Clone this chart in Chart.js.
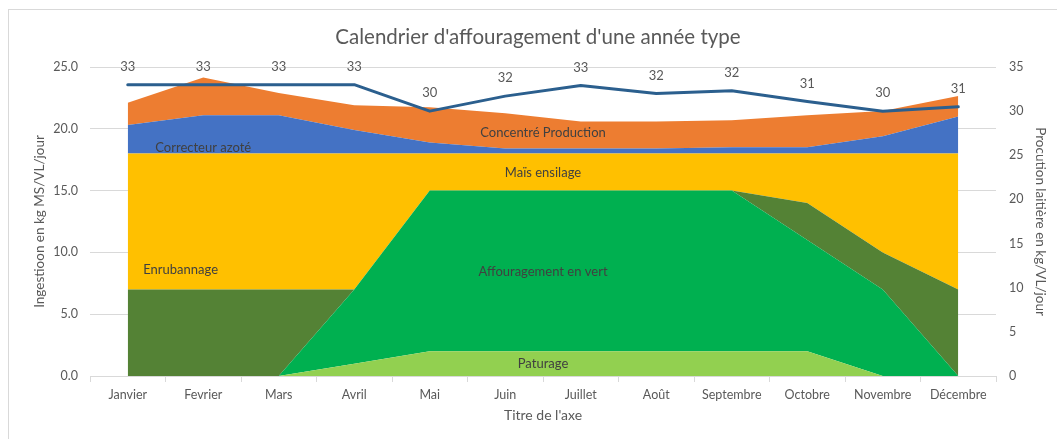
<!DOCTYPE html>
<html>
<head>
<meta charset="utf-8">
<script src="https://cdn.jsdelivr.net/npm/chart.js@4/dist/chart.umd.min.js"></script>
<style>
  html, body { margin: 0; padding: 0; background: #fff; overflow: hidden; width: 1057px; height: 439px; }
  #frame { position: absolute; left: 8px; top: 9px; width: 1058px; height: 440px; border: 1px solid #d9d9d9; background: #fff; }
  #frame canvas { display: block; }
</style>
</head>
<body>
<div id="frame"><canvas id="c" width="1058" height="440"></canvas></div>
<script>
const categories = ['Janvier','Fevrier','Mars','Avril','Mai','Juin','Juillet','Août','Septembre','Octobre','Novembre','Décembre'];
const paturage = [0,0,0,1,2,2,2,2,2,2,0,0];
const affouragementVert = [0,0,0,6,13,13,13,13,13,9,7,0];
const ensilageHerbe = [7,7,7,0,0,0,0,0,0,3,3,7];
const maisEnsilage = [11,11,11,11,3,3,3,3,3,4,8,11];
const correcteurAzote = [2.3,3.1,3.1,1.9,0.9,0.4,0.4,0.4,0.5,0.5,1.4,3.0];
const concentreProduction = [1.8,3.05,1.8,2.0,2.85,2.85,2.2,2.2,2.2,2.6,2.05,1.65];
const productionLaitiere = [33,33,33,33,30,31.7,32.9,32,32.3,31.1,30,30.5];

const leftTicks = [0,5,10,15,20,25];
const rightTicks = [0,5,10,15,20,25,30,35];

const areaLabelTexts = ['Correcteur azoté','Concentré Production','Maïs ensilage','Affouragement en vert','Paturage','Enrubannage'];
const areaLabelAnchorIdx = [1,5.5,5.5,5.5,5.5,0.7];
const areaLabelAnchorVal = [18.5,19.7,16.4,8.45,0.95,8.6];

const FONT = 'Lato, "Open Sans", sans-serif';
const GREY = '#595959';

const areaLabelsPlugin = {
  id: 'areaLabels',
  afterDatasetsDraw(chart) {
    const {ctx, scales} = chart;
    ctx.save();
    ctx.font = '13px ' + FONT;
    ctx.fillStyle = '#404040';
    ctx.textAlign = 'center';
    ctx.textBaseline = 'middle';
    areaLabelTexts.forEach((t, i) => {
      ctx.fillText(t, scales.x.getPixelForValue(areaLabelAnchorIdx[i]), scales.y.getPixelForValue(areaLabelAnchorVal[i]));
    });
    const meta = chart.getDatasetMeta(0);
    ctx.fillStyle = GREY;
    ctx.font = '13px ' + FONT;
    meta.data.forEach((pt, i) => {
      ctx.fillText(String(Math.round(productionLaitiere[i])), pt.x, pt.y - 18);
    });
    ctx.restore();
  }
};

function area(label, data, color, fill) {
  return { type: 'line', label, data, yAxisID: 'y', backgroundColor: color, borderColor: color,
           borderWidth: 0, pointRadius: 0, fill, tension: 0, order: 1 };
}

new Chart(document.getElementById('c'), {
  type: 'line',
  data: {
    labels: categories,
    datasets: [
      { type: 'line', label: 'Production laitière', data: productionLaitiere, yAxisID: 'y1',
        borderColor: '#2B5F8E', backgroundColor: '#2B5F8E', borderWidth: 3, pointRadius: 0,
        fill: false, tension: 0, order: -1, borderCapStyle: 'round', borderJoinStyle: 'round' },
      area('Paturage', paturage, '#92D050', 'origin'),
      area('Affouragement en vert', affouragementVert, '#00B050', '-1'),
      area('Ensilage herbe', ensilageHerbe, '#548235', '-1'),
      area('Maïs ensilage', maisEnsilage, '#FFC000', '-1'),
      area('Correcteur azoté', correcteurAzote, '#4472C4', '-1'),
      area('Concentré Production', concentreProduction, '#ED7D31', '-1')
    ]
  },
  options: {
    responsive: false,
    animation: false,
    events: [],
    layout: { padding: 0 },
    plugins: {
      legend: { display: false },
      tooltip: { enabled: false },
      title: { display: true, text: "Calendrier d'affouragement d'une année type",
               color: GREY, font: { family: FONT, size: 20.5, weight: 'normal', lineHeight: 1.2 },
               padding: { top: 15.5, bottom: 16.9 } }
    },
    scales: {
      x: {
        offset: true,
        grid: { offset: true, drawOnChartArea: false, drawTicks: true, tickLength: 6, color: '#d9d9d9' },
        border: { display: true, color: '#d9d9d9' },
        ticks: { color: GREY, font: { family: FONT, size: 12.5 }, padding: 5, maxRotation: 0, autoSkip: false },
        title: { display: true, text: "Titre de l'axe", color: GREY, font: { family: FONT, size: 14 }, padding: { top: 0, bottom: 26 } },
        afterFit(s) { s.height = 74; }
      },
      y: {
        stacked: true, position: 'left', min: 0, max: 25,
        afterBuildTicks(s) { s.ticks = leftTicks.map(v => ({ value: v })); },
        grid: { color: '#d9d9d9', drawTicks: false },
        border: { display: false },
        ticks: { color: GREY, font: { family: FONT, size: 12.5 }, padding: 12, callback: v => Number(v).toFixed(1) },
        title: { display: true, text: 'Ingestioon en kg MS/VL/jour', color: GREY, font: { family: FONT, size: 13.5 }, padding: { top: 23, bottom: 0 } },
        afterFit(s) { s.width = 81; }
      },
      y1: {
        stacked: false, position: 'right', min: 0, max: 35,
        afterBuildTicks(s) { s.ticks = rightTicks.map(v => ({ value: v })); },
        grid: { display: false, drawTicks: false },
        border: { display: false },
        ticks: { color: GREY, font: { family: FONT, size: 12.5 }, padding: 13 },
        title: { display: true, text: 'Procution laitière en kg/VL/jour', color: GREY, font: { family: FONT, size: 13.5 }, padding: { top: 19, bottom: 0 } },
        afterFit(s) { s.width = 71; }
      }
    }
  },
  plugins: [areaLabelsPlugin]
});
</script>
</body>
</html>
